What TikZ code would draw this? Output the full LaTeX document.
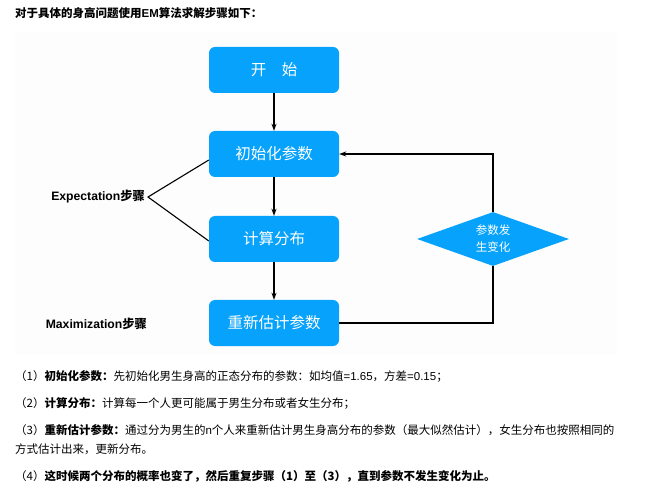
\documentclass[tikz,border=0pt]{standalone}
\usepackage{fontspec}
\setmainfont{Noto Sans CJK SC}
\newfontfamily\en{Liberation Sans}
\usetikzlibrary{shapes.geometric, arrows.meta, positioning}
\definecolor{myblue}{HTML}{06A2FB}
\definecolor{mybg}{HTML}{FDFDFD}
\tikzset{
	stepnode/.style={
			shape=rectangle,
			rounded corners=6pt,
			fill=myblue,
			text=white,
			minimum width=130pt,
			minimum height=46pt,
			inner sep=0pt,
			font=\fontsize{15.5}{18}\selectfont
		},
	checknode/.style={
			diamond,
			aspect=2.8,
			fill=myblue,
			text=white,
			minimum width=152pt,
			minimum height=54pt,
			inner sep=0pt,
			align=center,
			font=\fontsize{11.5}{17}\selectfont
		},
	steplabel/.style={
			anchor=east,
			inner sep=0pt,
			font=\fontsize{12.2}{14}\selectfont\bfseries
		},
	bodytext/.style={
			anchor=west,
			inner sep=0pt,
			align=left,
			font=\fontsize{11.5}{19}\selectfont
		},
	flow/.style={
			line width=1.1pt,
			-{Stealth[length=7pt,width=5pt]}
		},
	plainline/.style={
			line width=1.1pt
		}
}

\begin{document}
\begin{tikzpicture}[x=1pt, y=-1pt]
  \useasboundingbox (0,0) rectangle (645,494);
  \fill[mybg] (15,32) rectangle (617,355);

  \node[anchor=west, inner sep=0pt, font=\fontsize{11.5}{13}\selectfont\bfseries] (title) at (15,13) {对于具体的身高问题使用{\en EM}算法求解步骤如下：};

  \node[stepnode] (s0) at (274,70) {开\quad 始};
  \node[stepnode] (s1) at (274,154) {初始化参数};
  \node[stepnode] (s2) at (274,239) {计算分布};
  \node[stepnode] (s3) at (274,323) {重新估计参数};
  \node[checknode] (chk) at (493,239) {参数发\\生变化};

  \node[steplabel] (elab) at (145,197) {{\en Expectation}步骤};
  \node[steplabel] (mlab) at (147,324) {{\en Maximization}步骤};

  \draw[flow] (s0) -- (s1);
  \draw[flow] (s1) -- (s2);
  \draw[flow] (s2) -- (s3);
  \draw[plainline] (s3.east) -| (chk.south);
  \draw[flow] (chk.north) |- (s1.east);
  \draw[plainline, line join=miter] ([yshift=-6pt]s1.west) -- ([xshift=3pt]elab.east) -- ([yshift=-2pt]s2.west);

  \node[bodytext] (t1) at (15,376) {（1）{\bfseries 初始化参数：}先初始化男生身高的正态分布的参数：如均值{\en =1.65}，方差{\en =0.15}；};
  \node[bodytext] (t2) at (15,403) {（2）{\bfseries 计算分布：}计算每一个人更可能属于男生分布或者女生分布；};
  \node[bodytext, anchor=north west] (t3) at (15,424) {（3）{\bfseries 重新估计参数：}通过分为男生的{\en n}个人来重新估计男生身高分布的参数（最大似然估计），女生分布也按照相同的\\方式估计出来，更新分布。};
  \node[bodytext] (t4) at (15,476) {（4）{\bfseries 这时候两个分布的概率也变了，然后重复步骤（1）至（3），直到参数不发生变化为止。}};
\end{tikzpicture}
\end{document}
